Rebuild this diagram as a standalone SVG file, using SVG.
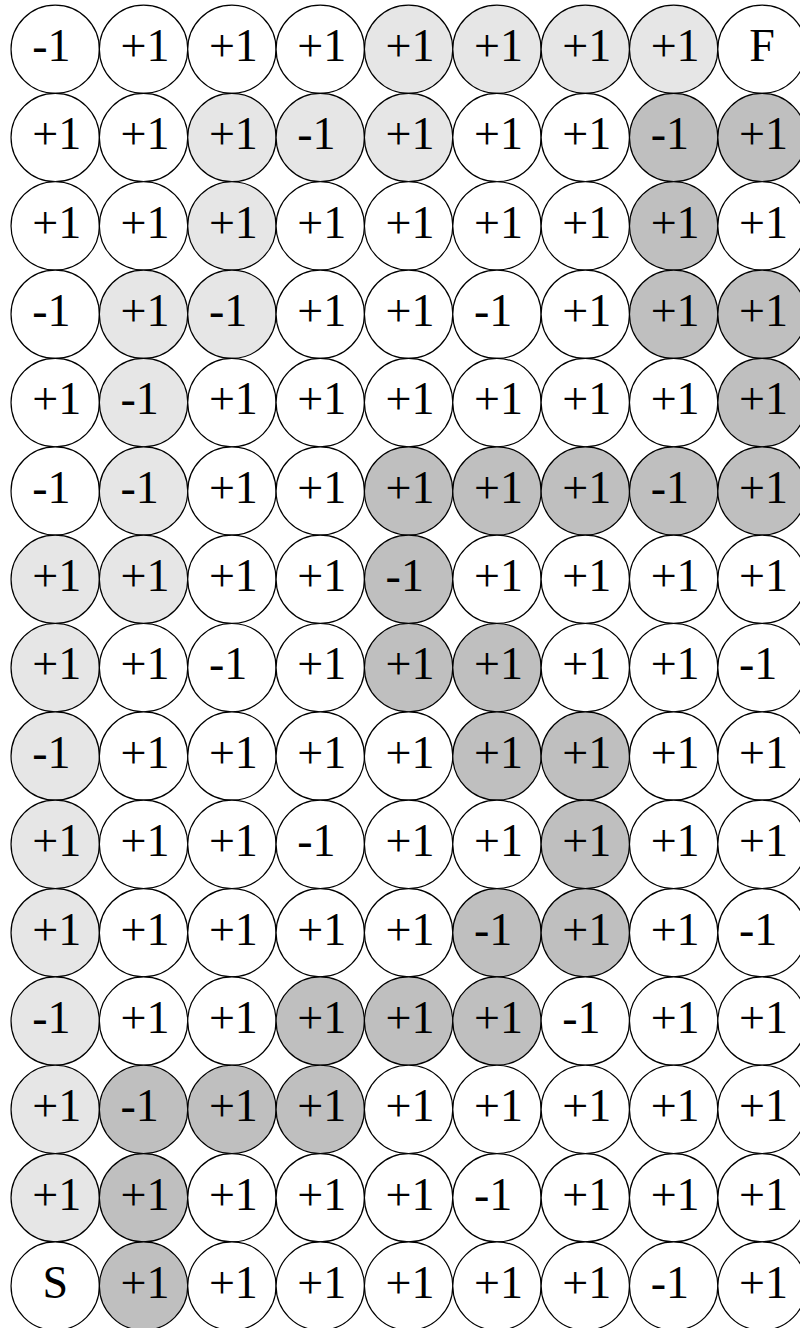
<svg xmlns="http://www.w3.org/2000/svg" width="800" height="1328" viewBox="0 0 800 1328">
<style>
circle{stroke:#000;stroke-width:1.2;fill:#fff}
.L circle{fill:#e6e6e6}
.D circle{fill:#bfbfbf}
</style>
<rect width="800" height="1328" fill="#fff"/>
<g id="connectors"/>
<g id="nodes" font-family="'Liberation Serif', 'Times New Roman', serif" font-size="46" fill="#000">
<g id="r0c0" transform="translate(55.2,49.2)"><circle r="44.17"/><text x="-23" y="11.8">-1</text></g>
<g id="r0c1" transform="translate(143.55,49.2)"><circle r="44.17"/><text x="-23" y="11.8">+1</text></g>
<g id="r0c2" transform="translate(231.9,49.2)"><circle r="44.17"/><text x="-23" y="11.8">+1</text></g>
<g id="r0c3" transform="translate(320.25,49.2)"><circle r="44.17"/><text x="-23" y="11.8">+1</text></g>
<g id="r0c4" class="L" transform="translate(408.6,49.2)"><circle r="44.17"/><text x="-23" y="11.8">+1</text></g>
<g id="r0c5" class="L" transform="translate(496.95,49.2)"><circle r="44.17"/><text x="-23" y="11.8">+1</text></g>
<g id="r0c6" class="L" transform="translate(585.3,49.2)"><circle r="44.17"/><text x="-23" y="11.8">+1</text></g>
<g id="r0c7" class="L" transform="translate(673.65,49.2)"><circle r="44.17"/><text x="-23" y="11.8">+1</text></g>
<g id="r0c8" transform="translate(762,49.2)"><circle r="44.17"/><text text-anchor="middle" x="0" y="11.8">F</text></g>

<g id="r1c0" transform="translate(55.2,137.55)"><circle r="44.17"/><text x="-23" y="11.8">+1</text></g>
<g id="r1c1" transform="translate(143.55,137.55)"><circle r="44.17"/><text x="-23" y="11.8">+1</text></g>
<g id="r1c2" class="L" transform="translate(231.9,137.55)"><circle r="44.17"/><text x="-23" y="11.8">+1</text></g>
<g id="r1c3" class="L" transform="translate(320.25,137.55)"><circle r="44.17"/><text x="-23" y="11.8">-1</text></g>
<g id="r1c4" class="L" transform="translate(408.6,137.55)"><circle r="44.17"/><text x="-23" y="11.8">+1</text></g>
<g id="r1c5" transform="translate(496.95,137.55)"><circle r="44.17"/><text x="-23" y="11.8">+1</text></g>
<g id="r1c6" transform="translate(585.3,137.55)"><circle r="44.17"/><text x="-23" y="11.8">+1</text></g>
<g id="r1c7" class="D" transform="translate(673.65,137.55)"><circle r="44.17"/><text x="-23" y="11.8">-1</text></g>
<g id="r1c8" class="D" transform="translate(762,137.55)"><circle r="44.17"/><text x="-23" y="11.8">+1</text></g>

<g id="r2c0" transform="translate(55.2,225.9)"><circle r="44.17"/><text x="-23" y="11.8">+1</text></g>
<g id="r2c1" transform="translate(143.55,225.9)"><circle r="44.17"/><text x="-23" y="11.8">+1</text></g>
<g id="r2c2" class="L" transform="translate(231.9,225.9)"><circle r="44.17"/><text x="-23" y="11.8">+1</text></g>
<g id="r2c3" transform="translate(320.25,225.9)"><circle r="44.17"/><text x="-23" y="11.8">+1</text></g>
<g id="r2c4" transform="translate(408.6,225.9)"><circle r="44.17"/><text x="-23" y="11.8">+1</text></g>
<g id="r2c5" transform="translate(496.95,225.9)"><circle r="44.17"/><text x="-23" y="11.8">+1</text></g>
<g id="r2c6" transform="translate(585.3,225.9)"><circle r="44.17"/><text x="-23" y="11.8">+1</text></g>
<g id="r2c7" class="D" transform="translate(673.65,225.9)"><circle r="44.17"/><text x="-23" y="11.8">+1</text></g>
<g id="r2c8" transform="translate(762,225.9)"><circle r="44.17"/><text x="-23" y="11.8">+1</text></g>

<g id="r3c0" transform="translate(55.2,314.25)"><circle r="44.17"/><text x="-23" y="11.8">-1</text></g>
<g id="r3c1" class="L" transform="translate(143.55,314.25)"><circle r="44.17"/><text x="-23" y="11.8">+1</text></g>
<g id="r3c2" class="L" transform="translate(231.9,314.25)"><circle r="44.17"/><text x="-23" y="11.8">-1</text></g>
<g id="r3c3" transform="translate(320.25,314.25)"><circle r="44.17"/><text x="-23" y="11.8">+1</text></g>
<g id="r3c4" transform="translate(408.6,314.25)"><circle r="44.17"/><text x="-23" y="11.8">+1</text></g>
<g id="r3c5" transform="translate(496.95,314.25)"><circle r="44.17"/><text x="-23" y="11.8">-1</text></g>
<g id="r3c6" transform="translate(585.3,314.25)"><circle r="44.17"/><text x="-23" y="11.8">+1</text></g>
<g id="r3c7" class="D" transform="translate(673.65,314.25)"><circle r="44.17"/><text x="-23" y="11.8">+1</text></g>
<g id="r3c8" class="D" transform="translate(762,314.25)"><circle r="44.17"/><text x="-23" y="11.8">+1</text></g>

<g id="r4c0" transform="translate(55.2,402.6)"><circle r="44.17"/><text x="-23" y="11.8">+1</text></g>
<g id="r4c1" class="L" transform="translate(143.55,402.6)"><circle r="44.17"/><text x="-23" y="11.8">-1</text></g>
<g id="r4c2" transform="translate(231.9,402.6)"><circle r="44.17"/><text x="-23" y="11.8">+1</text></g>
<g id="r4c3" transform="translate(320.25,402.6)"><circle r="44.17"/><text x="-23" y="11.8">+1</text></g>
<g id="r4c4" transform="translate(408.6,402.6)"><circle r="44.17"/><text x="-23" y="11.8">+1</text></g>
<g id="r4c5" transform="translate(496.95,402.6)"><circle r="44.17"/><text x="-23" y="11.8">+1</text></g>
<g id="r4c6" transform="translate(585.3,402.6)"><circle r="44.17"/><text x="-23" y="11.8">+1</text></g>
<g id="r4c7" transform="translate(673.65,402.6)"><circle r="44.17"/><text x="-23" y="11.8">+1</text></g>
<g id="r4c8" class="D" transform="translate(762,402.6)"><circle r="44.17"/><text x="-23" y="11.8">+1</text></g>

<g id="r5c0" transform="translate(55.2,490.95)"><circle r="44.17"/><text x="-23" y="11.8">-1</text></g>
<g id="r5c1" class="L" transform="translate(143.55,490.95)"><circle r="44.17"/><text x="-23" y="11.8">-1</text></g>
<g id="r5c2" transform="translate(231.9,490.95)"><circle r="44.17"/><text x="-23" y="11.8">+1</text></g>
<g id="r5c3" transform="translate(320.25,490.95)"><circle r="44.17"/><text x="-23" y="11.8">+1</text></g>
<g id="r5c4" class="D" transform="translate(408.6,490.95)"><circle r="44.17"/><text x="-23" y="11.8">+1</text></g>
<g id="r5c5" class="D" transform="translate(496.95,490.95)"><circle r="44.17"/><text x="-23" y="11.8">+1</text></g>
<g id="r5c6" class="D" transform="translate(585.3,490.95)"><circle r="44.17"/><text x="-23" y="11.8">+1</text></g>
<g id="r5c7" class="D" transform="translate(673.65,490.95)"><circle r="44.17"/><text x="-23" y="11.8">-1</text></g>
<g id="r5c8" class="D" transform="translate(762,490.95)"><circle r="44.17"/><text x="-23" y="11.8">+1</text></g>

<g id="r6c0" class="L" transform="translate(55.2,579.3)"><circle r="44.17"/><text x="-23" y="11.8">+1</text></g>
<g id="r6c1" class="L" transform="translate(143.55,579.3)"><circle r="44.17"/><text x="-23" y="11.8">+1</text></g>
<g id="r6c2" transform="translate(231.9,579.3)"><circle r="44.17"/><text x="-23" y="11.8">+1</text></g>
<g id="r6c3" transform="translate(320.25,579.3)"><circle r="44.17"/><text x="-23" y="11.8">+1</text></g>
<g id="r6c4" class="D" transform="translate(408.6,579.3)"><circle r="44.17"/><text x="-23" y="11.8">-1</text></g>
<g id="r6c5" transform="translate(496.95,579.3)"><circle r="44.17"/><text x="-23" y="11.8">+1</text></g>
<g id="r6c6" transform="translate(585.3,579.3)"><circle r="44.17"/><text x="-23" y="11.8">+1</text></g>
<g id="r6c7" transform="translate(673.65,579.3)"><circle r="44.17"/><text x="-23" y="11.8">+1</text></g>
<g id="r6c8" transform="translate(762,579.3)"><circle r="44.17"/><text x="-23" y="11.8">+1</text></g>

<g id="r7c0" class="L" transform="translate(55.2,667.65)"><circle r="44.17"/><text x="-23" y="11.8">+1</text></g>
<g id="r7c1" transform="translate(143.55,667.65)"><circle r="44.17"/><text x="-23" y="11.8">+1</text></g>
<g id="r7c2" transform="translate(231.9,667.65)"><circle r="44.17"/><text x="-23" y="11.8">-1</text></g>
<g id="r7c3" transform="translate(320.25,667.65)"><circle r="44.17"/><text x="-23" y="11.8">+1</text></g>
<g id="r7c4" class="D" transform="translate(408.6,667.65)"><circle r="44.17"/><text x="-23" y="11.8">+1</text></g>
<g id="r7c5" class="D" transform="translate(496.95,667.65)"><circle r="44.17"/><text x="-23" y="11.8">+1</text></g>
<g id="r7c6" transform="translate(585.3,667.65)"><circle r="44.17"/><text x="-23" y="11.8">+1</text></g>
<g id="r7c7" transform="translate(673.65,667.65)"><circle r="44.17"/><text x="-23" y="11.8">+1</text></g>
<g id="r7c8" transform="translate(762,667.65)"><circle r="44.17"/><text x="-23" y="11.8">-1</text></g>

<g id="r8c0" class="L" transform="translate(55.2,756)"><circle r="44.17"/><text x="-23" y="11.8">-1</text></g>
<g id="r8c1" transform="translate(143.55,756)"><circle r="44.17"/><text x="-23" y="11.8">+1</text></g>
<g id="r8c2" transform="translate(231.9,756)"><circle r="44.17"/><text x="-23" y="11.8">+1</text></g>
<g id="r8c3" transform="translate(320.25,756)"><circle r="44.17"/><text x="-23" y="11.8">+1</text></g>
<g id="r8c4" transform="translate(408.6,756)"><circle r="44.17"/><text x="-23" y="11.8">+1</text></g>
<g id="r8c5" class="D" transform="translate(496.95,756)"><circle r="44.17"/><text x="-23" y="11.8">+1</text></g>
<g id="r8c6" class="D" transform="translate(585.3,756)"><circle r="44.17"/><text x="-23" y="11.8">+1</text></g>
<g id="r8c7" transform="translate(673.65,756)"><circle r="44.17"/><text x="-23" y="11.8">+1</text></g>
<g id="r8c8" transform="translate(762,756)"><circle r="44.17"/><text x="-23" y="11.8">+1</text></g>

<g id="r9c0" class="L" transform="translate(55.2,844.35)"><circle r="44.17"/><text x="-23" y="11.8">+1</text></g>
<g id="r9c1" transform="translate(143.55,844.35)"><circle r="44.17"/><text x="-23" y="11.8">+1</text></g>
<g id="r9c2" transform="translate(231.9,844.35)"><circle r="44.17"/><text x="-23" y="11.8">+1</text></g>
<g id="r9c3" transform="translate(320.25,844.35)"><circle r="44.17"/><text x="-23" y="11.8">-1</text></g>
<g id="r9c4" transform="translate(408.6,844.35)"><circle r="44.17"/><text x="-23" y="11.8">+1</text></g>
<g id="r9c5" transform="translate(496.95,844.35)"><circle r="44.17"/><text x="-23" y="11.8">+1</text></g>
<g id="r9c6" class="D" transform="translate(585.3,844.35)"><circle r="44.17"/><text x="-23" y="11.8">+1</text></g>
<g id="r9c7" transform="translate(673.65,844.35)"><circle r="44.17"/><text x="-23" y="11.8">+1</text></g>
<g id="r9c8" transform="translate(762,844.35)"><circle r="44.17"/><text x="-23" y="11.8">+1</text></g>

<g id="r10c0" class="L" transform="translate(55.2,932.7)"><circle r="44.17"/><text x="-23" y="11.8">+1</text></g>
<g id="r10c1" transform="translate(143.55,932.7)"><circle r="44.17"/><text x="-23" y="11.8">+1</text></g>
<g id="r10c2" transform="translate(231.9,932.7)"><circle r="44.17"/><text x="-23" y="11.8">+1</text></g>
<g id="r10c3" transform="translate(320.25,932.7)"><circle r="44.17"/><text x="-23" y="11.8">+1</text></g>
<g id="r10c4" transform="translate(408.6,932.7)"><circle r="44.17"/><text x="-23" y="11.8">+1</text></g>
<g id="r10c5" class="D" transform="translate(496.95,932.7)"><circle r="44.17"/><text x="-23" y="11.8">-1</text></g>
<g id="r10c6" class="D" transform="translate(585.3,932.7)"><circle r="44.17"/><text x="-23" y="11.8">+1</text></g>
<g id="r10c7" transform="translate(673.65,932.7)"><circle r="44.17"/><text x="-23" y="11.8">+1</text></g>
<g id="r10c8" transform="translate(762,932.7)"><circle r="44.17"/><text x="-23" y="11.8">-1</text></g>

<g id="r11c0" class="L" transform="translate(55.2,1021.05)"><circle r="44.17"/><text x="-23" y="11.8">-1</text></g>
<g id="r11c1" transform="translate(143.55,1021.05)"><circle r="44.17"/><text x="-23" y="11.8">+1</text></g>
<g id="r11c2" transform="translate(231.9,1021.05)"><circle r="44.17"/><text x="-23" y="11.8">+1</text></g>
<g id="r11c3" class="D" transform="translate(320.25,1021.05)"><circle r="44.17"/><text x="-23" y="11.8">+1</text></g>
<g id="r11c4" class="D" transform="translate(408.6,1021.05)"><circle r="44.17"/><text x="-23" y="11.8">+1</text></g>
<g id="r11c5" class="D" transform="translate(496.95,1021.05)"><circle r="44.17"/><text x="-23" y="11.8">+1</text></g>
<g id="r11c6" transform="translate(585.3,1021.05)"><circle r="44.17"/><text x="-23" y="11.8">-1</text></g>
<g id="r11c7" transform="translate(673.65,1021.05)"><circle r="44.17"/><text x="-23" y="11.8">+1</text></g>
<g id="r11c8" transform="translate(762,1021.05)"><circle r="44.17"/><text x="-23" y="11.8">+1</text></g>

<g id="r12c0" class="L" transform="translate(55.2,1109.4)"><circle r="44.17"/><text x="-23" y="11.8">+1</text></g>
<g id="r12c1" class="D" transform="translate(143.55,1109.4)"><circle r="44.17"/><text x="-23" y="11.8">-1</text></g>
<g id="r12c2" class="D" transform="translate(231.9,1109.4)"><circle r="44.17"/><text x="-23" y="11.8">+1</text></g>
<g id="r12c3" class="D" transform="translate(320.25,1109.4)"><circle r="44.17"/><text x="-23" y="11.8">+1</text></g>
<g id="r12c4" transform="translate(408.6,1109.4)"><circle r="44.17"/><text x="-23" y="11.8">+1</text></g>
<g id="r12c5" transform="translate(496.95,1109.4)"><circle r="44.17"/><text x="-23" y="11.8">+1</text></g>
<g id="r12c6" transform="translate(585.3,1109.4)"><circle r="44.17"/><text x="-23" y="11.8">+1</text></g>
<g id="r12c7" transform="translate(673.65,1109.4)"><circle r="44.17"/><text x="-23" y="11.8">+1</text></g>
<g id="r12c8" transform="translate(762,1109.4)"><circle r="44.17"/><text x="-23" y="11.8">+1</text></g>

<g id="r13c0" class="L" transform="translate(55.2,1197.75)"><circle r="44.17"/><text x="-23" y="11.8">+1</text></g>
<g id="r13c1" class="D" transform="translate(143.55,1197.75)"><circle r="44.17"/><text x="-23" y="11.8">+1</text></g>
<g id="r13c2" transform="translate(231.9,1197.75)"><circle r="44.17"/><text x="-23" y="11.8">+1</text></g>
<g id="r13c3" transform="translate(320.25,1197.75)"><circle r="44.17"/><text x="-23" y="11.8">+1</text></g>
<g id="r13c4" transform="translate(408.6,1197.75)"><circle r="44.17"/><text x="-23" y="11.8">+1</text></g>
<g id="r13c5" transform="translate(496.95,1197.75)"><circle r="44.17"/><text x="-23" y="11.8">-1</text></g>
<g id="r13c6" transform="translate(585.3,1197.75)"><circle r="44.17"/><text x="-23" y="11.8">+1</text></g>
<g id="r13c7" transform="translate(673.65,1197.75)"><circle r="44.17"/><text x="-23" y="11.8">+1</text></g>
<g id="r13c8" transform="translate(762,1197.75)"><circle r="44.17"/><text x="-23" y="11.8">+1</text></g>

<g id="r14c0" transform="translate(55.2,1286.1)"><circle r="44.17"/><text text-anchor="middle" x="0" y="11.8">S</text></g>
<g id="r14c1" class="D" transform="translate(143.55,1286.1)"><circle r="44.17"/><text x="-23" y="11.8">+1</text></g>
<g id="r14c2" transform="translate(231.9,1286.1)"><circle r="44.17"/><text x="-23" y="11.8">+1</text></g>
<g id="r14c3" transform="translate(320.25,1286.1)"><circle r="44.17"/><text x="-23" y="11.8">+1</text></g>
<g id="r14c4" transform="translate(408.6,1286.1)"><circle r="44.17"/><text x="-23" y="11.8">+1</text></g>
<g id="r14c5" transform="translate(496.95,1286.1)"><circle r="44.17"/><text x="-23" y="11.8">+1</text></g>
<g id="r14c6" transform="translate(585.3,1286.1)"><circle r="44.17"/><text x="-23" y="11.8">+1</text></g>
<g id="r14c7" transform="translate(673.65,1286.1)"><circle r="44.17"/><text x="-23" y="11.8">-1</text></g>
<g id="r14c8" transform="translate(762,1286.1)"><circle r="44.17"/><text x="-23" y="11.8">+1</text></g>
</g>
</svg>
